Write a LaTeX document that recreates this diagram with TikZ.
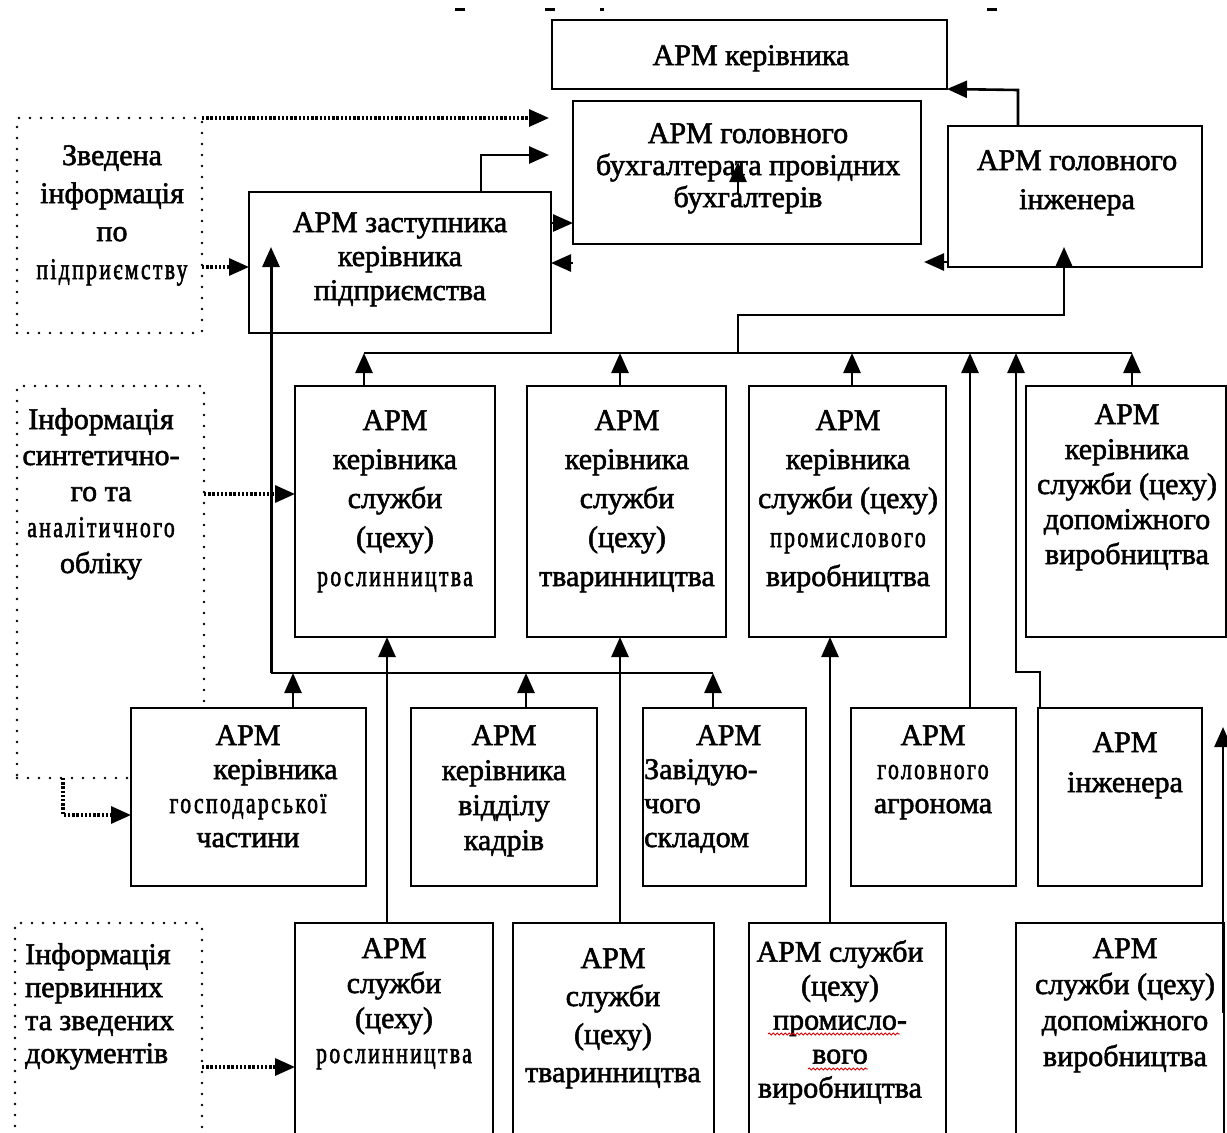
\documentclass[tikz,border=0pt]{standalone}
\usepackage{fontspec}
\setmainfont[FakeBold=1.8]{Liberation Serif}
\newfontfamily\cond[FakeStretch=0.72,LetterSpace=8,FakeBold=1.8]{Liberation Serif}
\usetikzlibrary{arrows.meta,decorations.pathmorphing}

% box from corner (x1,y1) to (x2,y2), y measured downwards
\newcommand\bx[6][box]{\node[#1, minimum width={#5-#3}, minimum height={#6-#4}] (#2) at ({(#3+#5)/2},{(#4+#6)/2}) {};}

\tikzset{
  box/.style={draw, line width=1.9pt, fill=white, inner sep=0pt, outer sep=0pt},
  dbox/.style={draw, line width=2.8pt, line cap=round, dash pattern=on 0pt off 11pt, inner sep=0pt, outer sep=0pt},
  conn/.style={line width=2.6pt},
  tipa/.style={-{Triangle[length=20pt,width=17pt]}},
  arr/.style={conn, tipa},
  darr/.style={line width=3.2pt, dash pattern=on 2.4pt off 1.8pt, tipa},
  txt/.style={font=\fontsize{30}{38}\selectfont, align=center, inner sep=0pt, anchor=north},
  squig/.style={red!85!black, line width=0.9pt, decorate, decoration={snake, segment length=4pt, amplitude=1pt}},
  frag/.style={line width=3pt}
}

\begin{document}
\begin{tikzpicture}[x=1pt, y=-1pt]
\useasboundingbox (0,0) rectangle (1227,1133);
\fill[white] (0,0) rectangle (1227,1133);
\clip (0,0) rectangle (1227,1133);

% remnants of the caption line above
\draw[frag] (455,9) -- (465,9) (545,9) -- (555,9) (600,9) -- (604,9) (987,9) -- (997,9);

% dotted information sources
\bx[dbox]{inf1}{17}{118}{202}{333}
\bx[dbox]{inf2}{17}{386}{204}{778}
\bx[dbox]{inf3}{15}{923}{202}{1160}

% top level
\bx{ruk}{552}{20}{947}{89}
\bx{buh}{573}{101}{921}{244}
\bx{zast}{249}{192}{551}{333}
\bx{heng}{948}{126}{1202}{267}

% heads of services
\bx{kros}{295}{386}{495}{637}
\bx{ktv}{527}{386}{726}{637}
\bx{kprom}{749}{386}{946}{637}
\bx{kdop}{1026}{386}{1226}{637}

% middle row
\bx{gosp}{131}{708}{366}{886}
\bx{kadr}{411}{708}{597}{886}
\bx{sklad}{643}{708}{806}{886}
\bx{agro}{851}{708}{1016}{886}
\bx{eng}{1038}{708}{1202}{886}

% services
\bx{sros}{295}{923}{493}{1160}
\bx{stv}{513}{923}{714}{1160}
\bx{sprom}{749}{923}{946}{1160}
\bx{sdop}{1016}{923}{1224}{1160}

% texts
\node[txt] (ruk-t) at (751,45) {АРМ керівника};
\node[txt, font=\fontsize{30}{32}\selectfont] (buh-t) at (748,123) {АРМ головного\\бухгалтерата провідних\\бухгалтерів};
\node[txt, font=\fontsize{30}{34}\selectfont] (zast-t) at (400,212) {АРМ заступника\\керівника\\підприємства};
\node[txt, font=\fontsize{30}{39}\selectfont] (heng-t) at (1077,150) {АРМ головного\\інженера};
\node[txt] (inf1-t) at (112,145) {Зведена\\інформація\\по\\{\cond підприємству}};
\node[txt, font=\fontsize{30}{36}\selectfont] (inf2-t) at (101,408) {Інформація\\синтетично-\\го та\\{\cond аналітичного}\\обліку};
\node[txt, font=\fontsize{30}{33}\selectfont, anchor=north west, align=left] (inf3-t) at (25,943) {Інформація\\первинних\\та зведених\\документів};

\node[txt, font=\fontsize{30}{39}\selectfont] (kros-t) at (395,410) {АРМ\\керівника\\служби\\(цеху)\\{\cond рослинництва}};
\node[txt, font=\fontsize{30}{39}\selectfont] (ktv-t) at (627,410) {АРМ\\керівника\\служби\\(цеху)\\тваринництва};
\node[txt, font=\fontsize{30}{39}\selectfont] (kprom-t) at (848,410) {АРМ\\керівника\\служби (цеху)\\{\cond промислового}\\виробництва};
\node[txt, font=\fontsize{30}{35}\selectfont] (kdop-t) at (1127,404) {АРМ\\керівника\\служби (цеху)\\допоміжного\\виробництва};

\node[txt, font=\fontsize{30}{34}\selectfont] (gosp-t) at (248,725) {АРМ\\\hspace*{55pt}керівника\\{\cond господарської}\\частини};
\node[txt, font=\fontsize{30}{35}\selectfont] (kadr-t) at (504,725) {АРМ\\керівника\\відділу\\кадрів};
\node[txt, font=\fontsize{30}{34}\selectfont, anchor=north west, align=left] (sklad-t) at (644,725) {\hspace*{52pt}АРМ\\Завідую-\\чого\\складом};
\node[txt, font=\fontsize{30}{34}\selectfont] (agro-t) at (933,725) {АРМ\\{\cond головного}\\агронома};
\node[txt, font=\fontsize{30}{40}\selectfont] (eng-t) at (1125,732) {АРМ\\інженера};

\node[txt, font=\fontsize{30}{35}\selectfont] (sros-t) at (394,938) {АРМ\\служби\\(цеху)\\{\cond рослинництва}};
\node[txt, font=\fontsize{30}{38}\selectfont] (stv-t) at (613,948) {АРМ\\служби\\(цеху)\\тваринництва};
\node[txt, font=\fontsize{30}{34}\selectfont] (sprom-t) at (840,940) {АРМ служби\\(цеху)\\промисло-\\вого\\виробництва};
\node[txt, font=\fontsize{30}{36}\selectfont] (sdop-t) at (1125,938) {АРМ\\служби (цеху)\\допоміжного\\виробництва};

% spelling marks
\draw[squig] (768,1034) -- (900,1034);
\draw[squig] (808,1069) -- (868,1069);

% dotted inputs
\coordinate (inf1-out) at (549,118);
\draw[darr] (inf1.north east) -- (inf1-out);
\draw[darr] (inf1.east |- 0,267) -- (zast.west |- 0,267);
\draw[darr] (inf2.east |- 0,494) -- (kros.west |- 0,494);
\draw[darr] (inf2.south -| 63,0) -- (63,815) -- (gosp.west |- 0,815);
\draw[darr] (inf3.east |- 0,1067) -- (sros.west |- 0,1067);

% top level links
\coordinate (zast-out) at (549,155);
\draw[arr] (zast.north -| 481,0) -- (481,155) -- (zast-out);
\draw[arr] (zast.east |- 0,223) -- (buh.west |- 0,223);
\coordinate (zast-in2) at (573,263);
\draw[arr] (zast-in2) -- (zast.east |- 0,263);
\coordinate (buh-up) at (738,193);
\draw[arr] (buh-up) -- (738,162);
\draw[arr] (heng.north -| 1018,0) -- (1018,90) -- (ruk.south east);
\coordinate (heng-out) at (924,262);
\draw[arr] (heng.west |- 0,262) -- (heng-out);

% upper bus
\coordinate (ub-l) at (364,353);
\coordinate (ub-r) at (1132,353);
\coordinate (heng-in) at (1064,247);
\draw[conn] (ub-l) -- (ub-r);
\draw[arr] (738,353) -- (738,315) -- (1064,315) -- (heng-in);
\draw[arr] (kros.north -| ub-l) -- (ub-l);
\draw[arr] (ktv.north -| 620,0) -- (620,353);
\draw[arr] (kprom.north -| 852,0) -- (852,353);
\draw[arr] (kdop.north -| ub-r) -- (ub-r);
\draw[arr] (agro.north -| 970,0) -- (970,353);
\draw[arr] (eng.north -| 1040,0) -- (1040,672) -- (1016,672) -- (1016,353);

% lower bus
\coordinate (lb-l) at (271,673);
\coordinate (lb-r) at (713,673);
\coordinate (zast-in) at (271,247);
\draw[conn] (lb-l) -- (lb-r);
\draw[arr, line width=3pt] (lb-l) -- (zast-in);
\draw[arr] (gosp.north -| 293,0) -- (293,673);
\draw[arr] (kadr.north -| 526,0) -- (526,673);
\draw[arr] (sklad.north -| lb-r) -- (lb-r);

% services up to their heads
\draw[arr] (sros.north -| 387,0) -- (kros.south -| 387,0);
\draw[arr] (stv.north -| 620,0) -- (ktv.south -| 620,0);
\draw[arr] (sprom.north -| 830,0) -- (kprom.south -| 830,0);
\coordinate (rt-b) at (1223,1013);
\coordinate (rt-t) at (1223,727);
\draw[arr] (rt-b) -- (rt-t);
\end{tikzpicture}
\end{document}
